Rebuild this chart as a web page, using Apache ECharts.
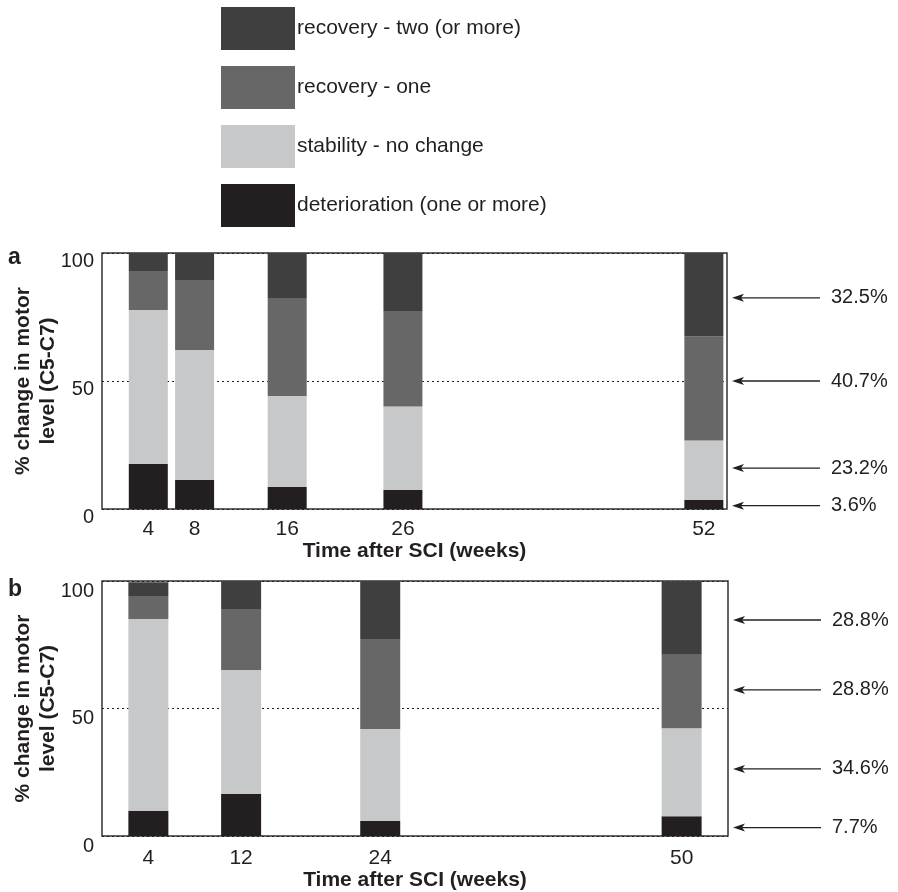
<!DOCTYPE html>
<html>
<head>
<meta charset="utf-8">
<script src="https://cdn.jsdelivr.net/npm/echarts/dist/echarts.min.js"></script>
<style>
  html, body { margin: 0; padding: 0; background: #fff; }
  #chart { width: 898px; height: 892px; }
</style>
</head>
<body>
<div id="chart"></div>
<script>
// panel a
const weeksA = [4, 8, 16, 26, 52]
const detA = [17.6, 11.3, 8.6, 7.4, 3.6]
const stabA = [60.1, 50.8, 35.5, 32.6, 23.2]
const rec1A = [15.3, 27.4, 38.3, 37.3, 40.7]
const rec2A = [7.0, 10.5, 17.6, 22.7, 32.5]
const arrowLevelsA = [82.5, 50, 16, 1.3] // y of the callout arrows (top to bottom)

// panel b
const weeksB = [4, 12, 24, 50]
const detB = [9.9, 16.5, 5.9, 7.7]
const stabB = [75.2, 48.6, 36.1, 34.6]
const rec1B = [9.0, 23.9, 35.3, 28.8]
const rec2B = [5.4, 11.0, 22.7, 28.8]
const arrowLevelsB = [84.7, 57.3, 26.3, 3.3]

const yTicks = [0, 50, 100]

const names = ['recovery - two (or more)', 'recovery - one', 'stability - no change', 'deterioration (one or more)']
const colors = {
  'recovery - two (or more)': '#3f3f3f',
  'recovery - one': '#676767',
  'stability - no change': '#c7c8ca',
  'deterioration (one or more)': '#231f20'
}

const ink = '#231f20'
const font = 'Liberation Sans, Arial, Helvetica, sans-serif'

const chart = echarts.init(document.getElementById('chart'))

// value first so the stack runs on y (the week axis is a value axis too)
function pairs(xs, ys) {
  return xs.map((x, i) => [ys[i], x])
}

function barSeries(name, weeks, vals, idx, stack, width) {
  return {
    name: name,
    type: 'bar',
    stack: stack,
    xAxisIndex: idx,
    yAxisIndex: idx,
    barWidth: width,
    encode: { x: 1, y: 0 },
    itemStyle: { color: colors[name] },
    emphasis: { disabled: true },
    data: pairs(weeks, vals)
  }
}

function xAxis(idx, weeks, margin, nameGap) {
  return {
    type: 'value',
    gridIndex: idx,
    min: 0,
    max: 54,
    name: 'Time after SCI (weeks)',
    nameLocation: 'middle',
    nameGap: nameGap,
    nameTextStyle: { fontFamily: font, fontSize: 21, fontWeight: 'bold', color: ink },
    axisLine: { show: false },
    axisTick: { show: false },
    splitLine: { show: false },
    axisLabel: {
      customValues: weeks,
      margin: margin,
      fontFamily: font,
      fontSize: 21,
      color: ink
    }
  }
}

function yAxis(idx, lh) {
  return {
    type: 'value',
    gridIndex: idx,
    min: 0,
    max: 100,
    interval: 50,
    name: '% change in motor\nlevel (C5-C7)',
    nameLocation: 'middle',
    nameGap: 41,
    nameMoveOverlap: false,
    nameTextStyle: { fontFamily: font, fontSize: 21, fontWeight: 'bold', color: ink, lineHeight: 25 },
    axisLine: { show: false },
    axisTick: { show: false },
    splitLine: {
      show: true,
      lineStyle: { color: ink, width: 1, type: [2, 3] }
    },
    axisLabel: {
      customValues: yTicks,
      margin: 8,
      verticalAlign: 'top',
      lineHeight: lh,
      fontFamily: font,
      fontSize: 20,
      color: ink
    }
  }
}

const frame = { show: true, borderColor: '#333', borderWidth: 1.5, backgroundColor: 'transparent', outerBoundsMode: 'none', containLabel: false }

chart.setOption({
  animation: false,
  legend: {
    orient: 'vertical',
    left: 221,
    top: 7,
    padding: 0,
    icon: 'rect',
    itemWidth: 74,
    itemHeight: 43,
    itemGap: 16,
    selectedMode: false,
    data: names,
    textStyle: { fontFamily: font, fontSize: 21, color: ink, padding: [4, 0, 0, -3] }
  },
  grid: [
    Object.assign({ left: 102, right: 171, top: 253, height: 256 }, frame),
    Object.assign({ left: 102, right: 170, top: 581, height: 255 }, frame)
  ],
  xAxis: [xAxis(0, weeksA, 10, 32), xAxis(1, weeksB, 12, 33)],
  yAxis: [yAxis(0, 16), yAxis(1, 20)],
  series: [
    barSeries(names[3], weeksA, detA, 0, 'a', 39),
    barSeries(names[2], weeksA, stabA, 0, 'a', 39),
    barSeries(names[1], weeksA, rec1A, 0, 'a', 39),
    barSeries(names[0], weeksA, rec2A, 0, 'a', 39),
    barSeries(names[3], weeksB, detB, 1, 'b', 40),
    barSeries(names[2], weeksB, stabB, 1, 'b', 40),
    barSeries(names[1], weeksB, rec1B, 1, 'b', 40),
    barSeries(names[0], weeksB, rec2B, 1, 'b', 40)
  ]
})

// callout arrows to the right of each panel, placed through the axis scales
function callouts(gridIndex, levels, values) {
  const els = []
  const xR = chart.convertToPixel({ gridIndex: gridIndex }, [54, 0])[0]
  levels.forEach((lv, i) => {
    const y = chart.convertToPixel({ gridIndex: gridIndex }, [0, lv])[1]
    els.push({
      type: 'line',
      shape: { x1: xR + 9, y1: y, x2: xR + 93, y2: y },
      style: { stroke: ink, lineWidth: 1.3 }
    })
    els.push({
      type: 'polygon',
      shape: { points: [[xR + 5, y], [xR + 17, y - 4], [xR + 14, y], [xR + 17, y + 4]] },
      style: { fill: ink }
    })
    els.push({
      type: 'text',
      style: {
        text: values[i].toFixed(1) + '%',
        x: xR + 104,
        y: y,
        verticalAlign: 'middle',
        fontFamily: font,
        fontSize: 20,
        fill: ink
      }
    })
  })
  return els
}

const last = weeksA.length - 1
const lastB = weeksB.length - 1
chart.setOption({
  graphic: [].concat(
    callouts(0, arrowLevelsA, [rec2A[last], rec1A[last], stabA[last], detA[last]]),
    callouts(1, arrowLevelsB, [rec2B[lastB], rec1B[lastB], stabB[lastB], detB[lastB]]),
    [
      { type: 'text', style: { text: 'a', x: 8, y: 258, verticalAlign: 'middle', fontFamily: font, fontSize: 23, fontWeight: 'bold', fill: ink } },
      { type: 'text', style: { text: 'b', x: 8, y: 590, verticalAlign: 'middle', fontFamily: font, fontSize: 23, fontWeight: 'bold', fill: ink } }
    ]
  )
})
</script>
</body>
</html>
